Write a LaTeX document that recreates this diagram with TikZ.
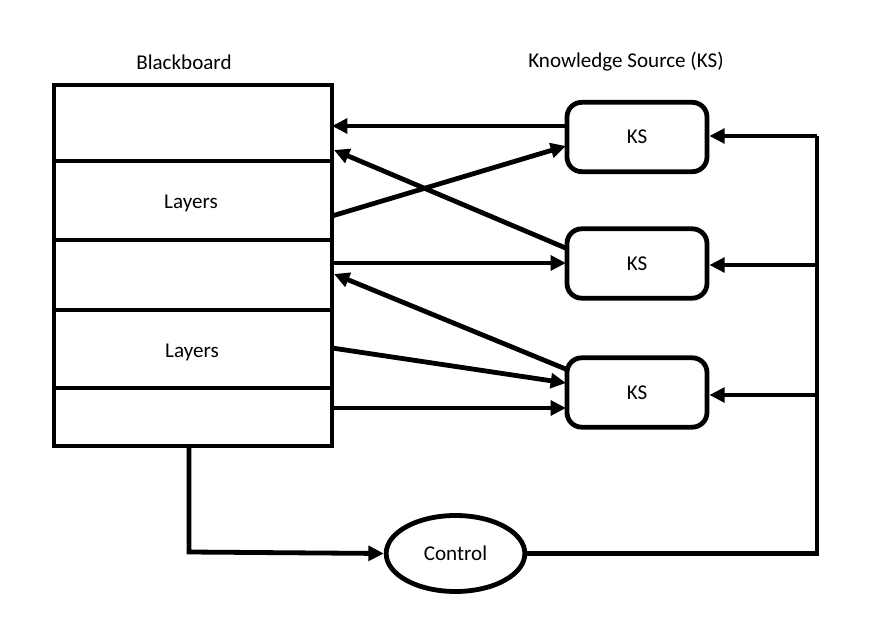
\documentclass[tikz,border=0pt]{standalone}
\usepackage{fontspec}
\setmainfont{Carlito}
\usetikzlibrary{arrows.meta,shapes.geometric}
\begin{document}
\begin{tikzpicture}[x=0.75pt,y=-0.75pt,
  line width=3.6pt,
  every node/.style={font=\fontsize{15.8}{18}\selectfont},
  arr/.style={-{Triangle[length=11.5pt,width=11pt]}},
  ksbox/.style={draw,rounded corners=11pt,minimum width=105pt,minimum height=52pt,inner sep=0pt},
  board/.style={draw,minimum width=208.5pt,minimum height=270.75pt,inner sep=0pt},
  ctrl/.style={draw,ellipse,minimum width=104pt,minimum height=57pt,inner sep=0pt},
  lbl/.style={inner sep=0pt}]
\useasboundingbox (0,0) rectangle (888,630);
% blackboard
\node[board] (bb) at (193,265.5) {};
\foreach \yy in {161,240,310,388}
  \draw (54,\yy) -- (332,\yy);
\node[lbl] (tbb) at (184,62) {Blackboard};
\node[lbl] (tks) at (626,62) {Knowledge Source (KS)};
\node[lbl] (l1) at (191,203) {Layers};
\node[lbl] (l2) at (192,352) {Layers};
% KS boxes
\node[ksbox] (ks1) at (637,137) {KS};
\node[ksbox] (ks2) at (637,263.5) {KS};
\node[ksbox] (ks3) at (637,392.5) {KS};
% control
\node[ctrl] (ctl) at (455.5,553.5) {Control};
% coordinates on board edge
\coordinate (b1) at (332,126);
\coordinate (b2) at (332,216);
\coordinate (b3) at (334,150);
\coordinate (b4) at (332,263);
\coordinate (b5) at (334,274);
\coordinate (b6) at (332,348);
\coordinate (b7) at (332,408);
\coordinate (bbot) at (189,446);
\coordinate (corner1) at (189,552);
% coordinates on KS left edges
\coordinate (k1a) at (567,126);
\coordinate (k1b) at (566,146);
\coordinate (k2a) at (568,249);
\coordinate (k2b) at (566,263);
\coordinate (k3a) at (568,370);
\coordinate (k3b) at (566,383);
\coordinate (k3c) at (566,408);
% bus
\coordinate (bus0) at (817,553.5);
\coordinate (bus1) at (817,136);
\coordinate (bus2) at (817,265);
\coordinate (bus3) at (817,395);
\draw[arr] (k1a) -- (b1);
\draw[arr] (b2) -- (k1b);
\draw[arr] (k2a) -- (b3);
\draw[arr] (b4) -- (k2b);
\draw[arr] (k3a) -- (b5);
\draw[arr] (b6) -- (k3b);
\draw[arr] (b7) -- (k3c);
% control loop
\draw[arr] (bbot) -- (corner1) -- (ctl.west);
\draw (ctl.east) -- (bus0) -- (bus1);
\draw[arr] (bus1) -- (bus1 -| ks1.east);
\draw[arr] (bus2) -- (bus2 -| ks2.east);
\draw[arr] (bus3) -- (bus3 -| ks3.east);
\end{tikzpicture}
\end{document}
